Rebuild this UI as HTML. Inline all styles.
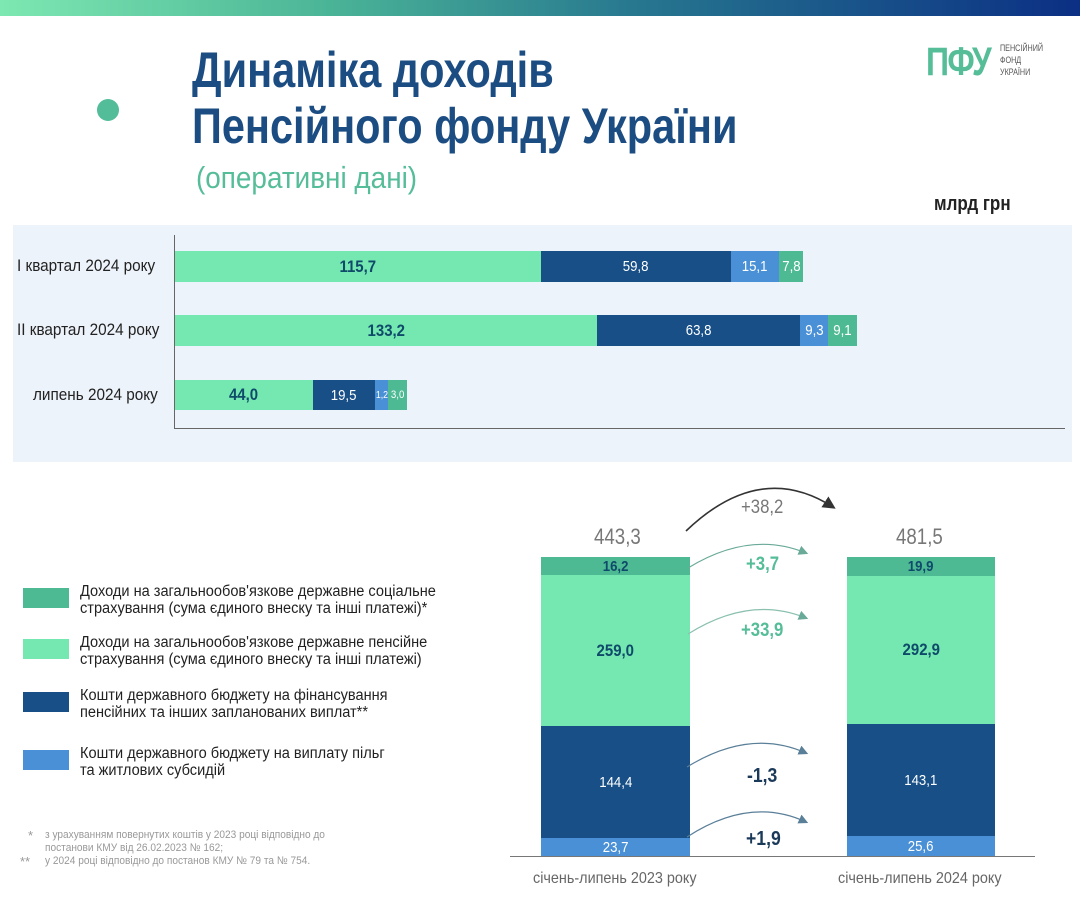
<!DOCTYPE html><html><head><meta charset="utf-8"><style>
*{margin:0;padding:0;box-sizing:border-box}
body{width:1080px;height:904px;background:#fff;position:relative;overflow:hidden;font-family:"Liberation Sans","DejaVu Sans",sans-serif}
.a{position:absolute}
.b{position:absolute;display:flex;align-items:center;justify-content:center;font-size:15px}
.b span{display:inline-block;transform:scaleX(0.88)}
.t{position:absolute;white-space:nowrap;transform-origin:0 0}
</style></head><body>
<div class="a" style="left:0;top:0;width:1080px;height:16px;background:linear-gradient(90deg,#7ee8b2,#4bb597 30%,#26758f 60%,#0b2f84)"></div>
<div class="a" style="left:97px;top:99px;width:22px;height:22px;border-radius:50%;background:#52bd98"></div>
<div class="t" style="left:192px;top:42px;font-size:50px;font-weight:bold;color:#1b4c82;line-height:56px;transform:scaleX(0.83)">Динаміка доходів<br>Пенсійного фонду України</div>
<div class="t" style="left:196px;top:160px;font-size:31px;color:#55bd98;transform:scaleX(0.9)">(оперативні дані)</div>
<div class="t" style="left:926px;top:40px;font-size:40px;font-weight:bold;color:#55bd98;letter-spacing:-2px;transform:scaleX(0.8)">ПФУ</div>
<div class="t" style="left:1000px;top:42px;font-size:9px;color:#555;line-height:12px;transform:scaleX(0.8)">ПЕНСІЙНИЙ<br>ФОНД<br>УКРАЇНИ</div>
<div class="t" style="left:934px;top:193px;font-size:20px;font-weight:bold;color:#222;transform:scaleX(0.85)">млрд грн</div>
<div class="a" style="left:13px;top:225px;width:1059px;height:237px;background:#edf3fa"></div>
<div class="a" style="left:174px;top:235px;width:1px;height:194px;background:#666"></div>
<div class="a" style="left:174px;top:428px;width:891px;height:1px;background:#666"></div>
<div class="t" style="left:17px;top:256px;font-size:17px;color:#222;transform:scaleX(0.9)">I квартал 2024 року</div>
<div class="t" style="left:17px;top:320px;font-size:17px;color:#222;transform:scaleX(0.9)">II квартал 2024 року</div>
<div class="t" style="left:33px;top:385px;font-size:17px;color:#222;transform:scaleX(0.9)">липень 2024 року</div>
<div class="b" style="left:175px;top:251px;width:366px;height:31px;background:#74e8b0;color:#0f4a6a;font-weight:bold;font-size:17px"><span>115,7</span></div>
<div class="b" style="left:541px;top:251px;width:190px;height:31px;background:#174f86;color:#fff"><span>59,8</span></div>
<div class="b" style="left:731px;top:251px;width:48px;height:31px;background:#4a90d6;color:#fff"><span>15,1</span></div>
<div class="b" style="left:779px;top:251px;width:24px;height:31px;background:#4dba94;color:#fff"><span>7,8</span></div>
<div class="b" style="left:175px;top:315px;width:422px;height:31px;background:#74e8b0;color:#0f4a6a;font-weight:bold;font-size:17px"><span>133,2</span></div>
<div class="b" style="left:597px;top:315px;width:203px;height:31px;background:#174f86;color:#fff"><span>63,8</span></div>
<div class="b" style="left:800px;top:315px;width:28px;height:31px;background:#4a90d6;color:#fff"><span>9,3</span></div>
<div class="b" style="left:828px;top:315px;width:29px;height:31px;background:#4dba94;color:#fff"><span>9,1</span></div>
<div class="b" style="left:175px;top:380px;width:138px;height:30px;background:#74e8b0;color:#0f4a6a;font-weight:bold;font-size:17px"><span>44,0</span></div>
<div class="b" style="left:313px;top:380px;width:62px;height:30px;background:#174f86;color:#fff"><span>19,5</span></div>
<div class="b" style="left:375px;top:380px;width:13px;height:30px;background:#4a90d6;color:#fff;font-size:10px"><span>1,2</span></div>
<div class="b" style="left:388px;top:380px;width:19px;height:30px;background:#4dba94;color:#fff;font-size:11px"><span>3,0</span></div>
<div class="a" style="left:23px;top:588px;width:46px;height:20px;background:#4dba94"></div>
<div class="a" style="left:23px;top:639px;width:46px;height:20px;background:#74e8b0"></div>
<div class="a" style="left:23px;top:692px;width:46px;height:20px;background:#174f86"></div>
<div class="a" style="left:23px;top:750px;width:46px;height:20px;background:#4a90d6"></div>
<div class="t" style="left:80px;top:583px;font-size:15.5px;line-height:17px;color:#222;transform:scaleX(0.94)">Доходи на загальнообов'язкове державне соціальне<br>страхування (сума єдиного внеску та інші платежі)*</div>
<div class="t" style="left:80px;top:634px;font-size:15.5px;line-height:17px;color:#222;transform:scaleX(0.94)">Доходи на загальнообов'язкове державне пенсійне<br>страхування (сума єдиного внеску та інші платежі)</div>
<div class="t" style="left:80px;top:687px;font-size:15.5px;line-height:17px;color:#222;transform:scaleX(0.94)">Кошти державного бюджету на фінансування<br>пенсійних та інших запланованих виплат**</div>
<div class="t" style="left:80px;top:745px;font-size:15.5px;line-height:17px;color:#222;transform:scaleX(0.94)">Кошти державного бюджету на виплату пільг<br>та житлових субсидій</div>
<div class="t" style="left:28px;top:829px;font-size:13px;line-height:13px;color:#999">*</div>
<div class="t" style="left:20px;top:855px;font-size:13px;line-height:13px;color:#999">**</div>
<div class="t" style="left:45px;top:829px;font-size:11px;line-height:13px;color:#999;transform:scaleX(0.92)">з урахуванням повернутих коштів у 2023 році відповідно до<br>постанови КМУ від 26.02.2023 № 162;<br>у 2024 році відповідно до постанов КМУ № 79 та № 754.</div>
<div class="t" style="left:594px;top:524px;font-size:22px;color:#777;transform:scaleX(0.85)">443,3</div>
<div class="t" style="left:896px;top:524px;font-size:22px;color:#777;transform:scaleX(0.85)">481,5</div>
<div class="b" style="left:541px;top:557px;width:149px;height:18px;background:#4dba94;color:#0f4a6a;font-weight:bold"><span>16,2</span></div>
<div class="b" style="left:541px;top:575px;width:149px;height:151px;background:#74e8b0;color:#0f4a6a;font-weight:bold;font-size:17px"><span>259,0</span></div>
<div class="b" style="left:541px;top:726px;width:149px;height:112px;background:#174f86;color:#fff"><span>144,4</span></div>
<div class="b" style="left:541px;top:838px;width:149px;height:18px;background:#4a90d6;color:#fff"><span>23,7</span></div>
<div class="b" style="left:847px;top:557px;width:148px;height:19px;background:#4dba94;color:#0f4a6a;font-weight:bold"><span>19,9</span></div>
<div class="b" style="left:847px;top:576px;width:148px;height:148px;background:#74e8b0;color:#0f4a6a;font-weight:bold;font-size:17px"><span>292,9</span></div>
<div class="b" style="left:847px;top:724px;width:148px;height:112px;background:#174f86;color:#fff"><span>143,1</span></div>
<div class="b" style="left:847px;top:836px;width:148px;height:20px;background:#4a90d6;color:#fff"><span>25,6</span></div>
<div class="a" style="left:510px;top:856px;width:525px;height:1px;background:#777"></div>
<div class="t" style="left:533px;top:870px;font-size:16px;color:#666;transform:scaleX(0.9)">січень-липень 2023 року</div>
<div class="t" style="left:838px;top:870px;font-size:16px;color:#666;transform:scaleX(0.9)">січень-липень 2024 року</div>
<svg class="a" style="left:0;top:0" width="1080" height="904">
<defs>
<marker id="m1" markerWidth="8" markerHeight="8" refX="6" refY="4" orient="auto"><path d="M0,0 L8,4 L0,8z" fill="#333"/></marker>
<marker id="m2" markerWidth="8" markerHeight="8" refX="6" refY="4" orient="auto"><path d="M0,0 L8,4 L0,8z" fill="#6aaa98"/></marker>
<marker id="m3" markerWidth="8" markerHeight="8" refX="6" refY="4" orient="auto"><path d="M0,0 L8,4 L0,8z" fill="#5a7f98"/></marker></defs>
<path d="M686,531 Q760,460 833,507" stroke="#333" stroke-width="1.6" fill="none" marker-end="url(#m1)"/>
<path d="M688,568 Q750,530 806,553" stroke="#6aaa98" stroke-width="1.2" fill="none" marker-end="url(#m2)"/>
<path d="M688,634 Q750,595 806,618" stroke="#8bc0b0" stroke-width="1.2" fill="none" marker-end="url(#m2)"/>
<path d="M687,767 Q750,728 806,753" stroke="#5a7f98" stroke-width="1.2" fill="none" marker-end="url(#m3)"/>
<path d="M687,837 Q750,796 806,822" stroke="#5a7f98" stroke-width="1.2" fill="none" marker-end="url(#m3)"/>
</svg>
<div class="t" style="left:741px;top:497px;font-size:19px;color:#777;transform:scaleX(0.88)">+38,2</div>
<div class="t" style="left:746px;top:554px;font-size:19px;color:#55bd98;font-weight:bold;transform:scaleX(0.88)">+3,7</div>
<div class="t" style="left:741px;top:620px;font-size:19px;color:#55bd98;font-weight:bold;transform:scaleX(0.88)">+33,9</div>
<div class="t" style="left:747px;top:765px;font-size:20px;color:#1b3a5a;font-weight:bold;transform:scaleX(0.88)">-1,3</div>
<div class="t" style="left:746px;top:828px;font-size:20px;color:#1b3a5a;font-weight:bold;transform:scaleX(0.88)">+1,9</div>
</body></html>
